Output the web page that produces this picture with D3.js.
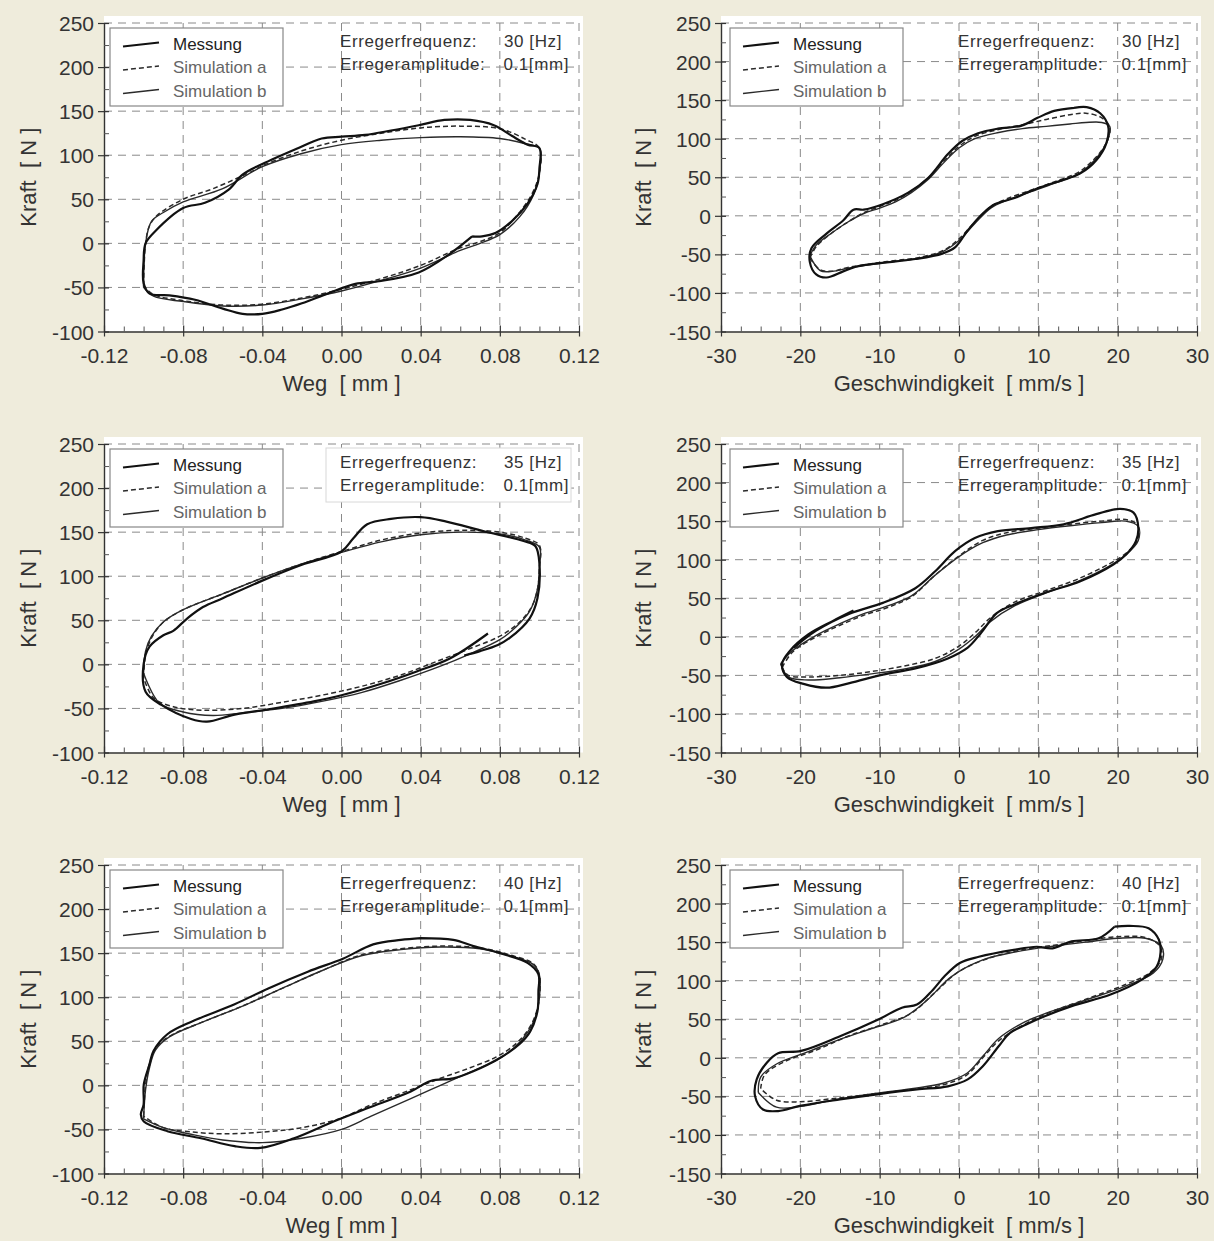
<!DOCTYPE html>
<html>
<head>
<meta charset="utf-8">
<style>
  body { margin: 0; background: #efecdc; }
  svg { display: block; font-family: "Liberation Sans", Arial, sans-serif; }
</style>
</head>
<body>
<svg width="1214" height="1241"></svg>
<script src="https://cdn.jsdelivr.net/npm/d3@7/dist/d3.min.js"></script>
<script>
// ---- tick labels / categories
var wegTicks = [-0.12, -0.08, -0.04, 0, 0.04, 0.08, 0.12];
var wegMinor = [-0.11, -0.10, -0.09, -0.07, -0.06, -0.05, -0.03, -0.02, -0.01, 0.01, 0.02, 0.03, 0.05, 0.06, 0.07, 0.09, 0.10, 0.11];
var wegKraftTicks = [-100, -50, 0, 50, 100, 150, 200, 250];
var wegKraftMinor = [-75, -25, 25, 75, 125, 175, 225];
var geschwTicks = [-30, -20, -10, 0, 10, 20, 30];
var geschwMinor = [-27.5, -25, -22.5, -17.5, -15, -12.5, -7.5, -5, -2.5, 2.5, 5, 7.5, 12.5, 15, 17.5, 22.5, 25, 27.5];
var geschwKraftTicks = [-150, -100, -50, 0, 50, 100, 150, 200, 250];
var geschwKraftMinor = [-125, -75, -25, 25, 75, 125, 175, 225];
var frequencies = ["30", "35", "40"];
var legendLabels = ["Messung", "Simulation a", "Simulation b"];

// ---- 30 Hz, Kraft over Weg
var weg30Mess = [[0.066,8],[0.054,-13],[0.039,-33],[0.019,-43],[0.007,-46],[-0.007,-57],[-0.020,-68],[-0.030,-75],[-0.040,-80],[-0.050,-80],[-0.060,-74],[-0.074,-64],[-0.087,-59],[-0.097,-57],[-0.100,-45],[-0.100,-20],[-0.099,0],[-0.094,14],[-0.080,40],[-0.069,46],[-0.057,61],[-0.050,78],[-0.040,90],[-0.023,107],[-0.010,119],[0.000,121],[0.012,123],[0.025,128],[0.039,134],[0.052,140],[0.065,140],[0.077,134],[0.086,122],[0.094,112],[0.100,108],[0.100,85],[0.099,67],[0.094,45],[0.086,25],[0.078,12],[0.071,8],[0.066,8]];
var weg30SimA = [[-0.100,-48],[-0.099,0],[-0.097,20],[-0.093,32],[-0.080,50],[-0.065,62],[-0.045,82],[-0.040,88],[-0.020,105],[0.000,117],[0.020,125],[0.040,131],[0.060,133],[0.080,130],[0.093,118],[0.100,108],[0.100,80],[0.096,55],[0.088,30],[0.080,12],[0.070,2],[0.060,-5],[0.040,-25],[0.020,-40],[0.000,-52],[-0.020,-62],[-0.040,-69],[-0.060,-70],[-0.080,-65],[-0.095,-58],[-0.100,-48]];
var weg30SimB = [[-0.100,-50],[-0.099,0],[-0.096,25],[-0.090,35],[-0.080,47],[-0.060,62],[-0.040,87],[-0.020,102],[0.000,112],[0.020,117],[0.040,120],[0.060,121],[0.080,119],[0.093,113],[0.100,108],[0.100,80],[0.097,55],[0.090,30],[0.080,10],[0.070,0],[0.060,-8],[0.040,-28],[0.020,-42],[0.000,-54],[-0.020,-63],[-0.040,-70],[-0.060,-71],[-0.080,-66],[-0.095,-60],[-0.100,-50]];

// ---- 30 Hz, Kraft over Geschwindigkeit
var geschw30Mess = [[14.5,140],[16.1,141],[17.8,133],[18.8,116],[18.6,95],[17.3,72],[15.3,55],[13,46],[11.1,40],[9,32],[7,23],[4.5,15],[2.9,2],[1.1,-19],[-0.5,-41],[-2.1,-49],[-5.5,-56],[-10.5,-62],[-13,-66],[-14.6,-72],[-16.7,-80],[-18,-76],[-18.8,-60],[-18.6,-42],[-16.7,-23],[-14.6,-6],[-13.3,8],[-12,8],[-9.6,15],[-6.4,30],[-3.9,49],[-1.4,80],[0.4,97],[2.4,107],[4.9,113],[7.9,117],[9.9,127],[12,136],[14.5,140]];
var geschw30SimA = [[-18.8,-55],[-18,-40],[-16,-22],[-14,-8],[-12,4],[-10,12],[-8,20],[-6,32],[-4,48],[-2,70],[0,90],[2,103],[5,112],[8,118],[11,125],[14,131],[16,133],[18,127],[19,115],[18.8,100],[18,85],[16.5,68],[15,56],[12,44],[9,33],[6,22],[4,12],[2,-8],[0,-30],[-2,-45],[-5,-54],[-8,-58],[-11,-62],[-14,-67],[-16,-72],[-17.5,-70],[-18.8,-55]];
var geschw30SimB = [[-18.8,-52],[-18,-38],[-16,-22],[-14,-8],[-12,3],[-10,10],[-8,18],[-6,30],[-4,46],[-2,68],[0,88],[2,100],[5,108],[8,113],[11,116],[14,119],[16,121],[18,121],[19,116],[18.8,100],[18,84],[16.5,66],[15,54],[12,42],[9,31],[6,20],[4,10],[2,-10],[0,-32],[-2,-46],[-5,-55],[-8,-59],[-11,-63],[-14,-68],[-16,-72],[-17.5,-71],[-18.8,-52]];

// ---- 35 Hz, Kraft over Weg
var weg35Mess = [[0.074,35],[0.055,7],[0.038,-8],[0.020,-22],[0.000,-35],[-0.014,-42],[-0.037,-51],[-0.054,-57],[-0.068,-65],[-0.076,-62],[-0.091,-46],[-0.099,-31],[-0.100,0],[-0.097,20],[-0.090,33],[-0.085,38],[-0.078,52],[-0.070,65],[-0.060,75],[-0.040,95],[-0.020,113],[0.000,128],[0.006,143],[0.013,159],[0.025,165],[0.040,167],[0.053,162],[0.072,151],[0.092,140],[0.098,134],[0.100,114],[0.099,75],[0.095,52],[0.085,30],[0.079,22],[0.070,15],[0.062,10]];
var weg35SimA = [[-0.100,-15],[-0.099,10],[-0.096,30],[-0.090,48],[-0.080,62],[-0.060,80],[-0.040,98],[-0.020,114],[0.000,128],[0.020,141],[0.040,149],[0.060,152],[0.080,150],[0.093,143],[0.100,135],[0.100,110],[0.099,85],[0.096,65],[0.090,48],[0.080,32],[0.065,18],[0.050,5],[0.030,-12],[0.010,-25],[-0.010,-35],[-0.030,-43],[-0.050,-50],[-0.070,-52],[-0.085,-48],[-0.095,-38],[-0.100,-15]];
var weg35SimB = [[-0.100,-10],[-0.099,15],[-0.096,32],[-0.090,48],[-0.080,62],[-0.060,80],[-0.040,98],[-0.020,114],[0.000,127],[0.020,139],[0.040,147],[0.060,150],[0.080,148],[0.093,141],[0.100,133],[0.100,110],[0.099,85],[0.095,60],[0.088,42],[0.080,28],[0.065,12],[0.050,-2],[0.030,-18],[0.010,-32],[-0.010,-42],[-0.030,-50],[-0.050,-55],[-0.065,-58],[-0.080,-54],[-0.092,-44],[-0.100,-10]];

// ---- 35 Hz, Kraft over Geschwindigkeit
var geschw35Mess = [[-13.3,34],[-16,20],[-19,3],[-21.3,-18],[-22.3,-35],[-21.7,-52],[-19.6,-61],[-16.7,-66],[-13.8,-60],[-9.6,-49],[-5.5,-41],[-1.4,-28],[1.1,-14],[2.7,4],[4.8,31],[7,42],[11.1,58],[15.3,72],[19.5,94],[21.1,107],[22.3,124],[22.6,142],[22,161],[20.3,166],[17.3,159],[13.2,146],[9.1,141],[4.9,137],[2,128],[-0.5,111],[-3,85],[-5.5,63],[-9.6,44],[-13.8,30],[-18,8],[-20.8,-14]];
var geschw35SimA = [[-22.3,-40],[-21,-20],[-18,0],[-15,15],[-12,28],[-9,38],[-6,52],[-3,80],[0,105],[3,125],[6,135],[10,141],[14,146],[18,150],[21,152],[22.5,145],[22.5,125],[21,108],[19,95],[15,75],[11,60],[7,45],[4,25],[2,5],[0,-12],[-3,-28],[-7,-38],[-11,-45],[-15,-50],[-19,-52],[-21.5,-50],[-22.3,-40]];
var geschw35SimB = [[-22.5,-35],[-21,-18],[-18,2],[-15,17],[-12,30],[-9,40],[-6,53],[-3,80],[0,104],[3,122],[6,132],[10,139],[14,144],[18,148],[21,150],[22.6,143],[22.6,125],[21,106],[19,92],[15,72],[11,57],[7,40],[4,20],[2,0],[0,-16],[-3,-32],[-7,-42],[-11,-48],[-15,-53],[-19,-56],[-21.5,-52],[-22.5,-35]];

// ---- 40 Hz, Kraft over Weg
var weg40Mess = [[0.040,167],[0.0565,165],[0.0667,158],[0.080,150],[0.094,139],[0.0995,126],[0.0995,107],[0.099,84],[0.0953,61],[0.090,47],[0.080,31],[0.0666,16],[0.0565,8],[0.045,5],[0.035,-7],[0.013,-26],[-0.004,-41],[-0.024,-60],[-0.041,-71],[-0.054,-69],[-0.071,-60],[-0.088,-52],[-0.0999,-41],[-0.1014,-33],[-0.100,-22],[-0.0999,1],[-0.097,24],[-0.095,39],[-0.088,58],[-0.075,73],[-0.054,92],[-0.037,110],[-0.017,129],[0.001,144],[0.016,160],[0.030,165],[0.040,167]];
var weg40SimA = [[-0.100,-35],[-0.099,0],[-0.097,25],[-0.093,45],[-0.085,58],[-0.070,72],[-0.050,90],[-0.030,110],[-0.010,130],[0.010,148],[0.030,155],[0.050,158],[0.070,156],[0.085,148],[0.097,138],[0.100,125],[0.100,100],[0.098,80],[0.094,62],[0.087,45],[0.078,32],[0.065,20],[0.050,8],[0.035,-5],[0.015,-22],[0.000,-37],[-0.020,-48],[-0.040,-53],[-0.060,-55],[-0.075,-53],[-0.090,-48],[-0.100,-35]];
var weg40SimB = [[-0.100,-38],[-0.099,-5],[-0.097,20],[-0.094,40],[-0.087,55],[-0.070,72],[-0.050,90],[-0.030,110],[-0.010,130],[0.010,147],[0.030,154],[0.050,157],[0.070,155],[0.085,147],[0.097,137],[0.100,125],[0.100,100],[0.098,78],[0.094,60],[0.087,42],[0.078,28],[0.065,15],[0.050,0],[0.035,-15],[0.015,-35],[0.000,-50],[-0.020,-60],[-0.040,-65],[-0.060,-62],[-0.075,-56],[-0.090,-48],[-0.100,-38]];

// ---- 40 Hz, Kraft over Geschwindigkeit
var geschw40Mess = [[19.6,170],[21.5,171],[23.9,168],[25.2,153],[25.4,136],[24.9,118],[23,101],[19.1,82],[14.2,67],[10.8,54],[8.4,43],[6.4,32],[5,15],[3,-11],[1.1,-28],[-1.4,-37],[-5.3,-41],[-10.1,-47],[-15,-54],[-19.9,-62],[-22.8,-69],[-24.7,-67],[-25.7,-50],[-25.5,-28],[-24.2,-6],[-22.8,6],[-19.9,9],[-15,28],[-10.1,50],[-7.2,65],[-5.3,69],[-3.3,88],[-1.8,106],[0.1,123],[2.5,131],[6.9,140],[9.8,144],[11.8,142],[14.2,151],[17.6,155],[19.6,170]];
var geschw40SimA = [[-25,-40],[-24.5,-22],[-22,-5],[-18,10],[-14,28],[-10,42],[-6,58],[-3,85],[0,112],[4,130],[8,140],[12,146],[16,152],[20,157],[23.5,156],[25.3,145],[25.5,128],[24,110],[21,95],[16,76],[11,57],[8,42],[5,22],[3,0],[1,-22],[-2,-35],[-6,-41],[-11,-47],[-16,-53],[-20,-57],[-23,-55],[-25,-40]];
var geschw40SimB = [[-25.3,-45],[-25,-25],[-23,-8],[-19,8],[-15,24],[-11,38],[-7,52],[-4,75],[-1,105],[3,127],[7,137],[12,145],[16,150],[20,155],[23.5,155],[25.5,145],[25.7,128],[24.5,110],[21,93],[16,75],[11,58],[8,45],[5,25],[3,2],[1,-20],[-2,-33],[-6,-40],[-11,-47],[-16,-55],[-20,-63],[-23,-64],[-25.3,-45]];

var svg = d3.select("svg");
var fontFam = '"Liberation Sans", Arial, sans-serif';
// plain hyphen as minus sign, like the original plots
var locale = d3.formatLocale({decimal: ".", thousands: ",", grouping: [3], currency: ["", ""], minus: "-"});

var panels = [
    {row: 0, col: 0, freq: frequencies[0], series: [weg30SimB, weg30SimA, weg30Mess]},
    {row: 0, col: 1, freq: frequencies[0], series: [geschw30SimB, geschw30SimA, geschw30Mess]},
    {row: 1, col: 0, freq: frequencies[1], series: [weg35SimB, weg35SimA, weg35Mess], box: true},
    {row: 1, col: 1, freq: frequencies[1], series: [geschw35SimB, geschw35SimA, geschw35Mess]},
    {row: 2, col: 0, freq: frequencies[2], series: [weg40SimB, weg40SimA, weg40Mess]},
    {row: 2, col: 1, freq: frequencies[2], series: [geschw40SimB, geschw40SimA, geschw40Mess]}
];

// line styles for SimB, SimA, Messung (draw order)
var seriesStyle = [
    {stroke: "#2a2a2a", width: 1.4, dash: null},
    {stroke: "#2a2a2a", width: 1.5, dash: "5,3"},
    {stroke: "#111", width: 2.2, dash: null}
];

panels.forEach(function(p) {
    var left = p.col === 0;
    var x0 = left ? 104 : 721, x1 = left ? 579 : 1197;
    var top = 23 + p.row * 421, bottom = top + 308.5;
    var xTicks = left ? wegTicks : geschwTicks;
    var xMinor = left ? wegMinor : geschwMinor;
    var yTicks = left ? wegKraftTicks : geschwKraftTicks;
    var yMinor = left ? wegKraftMinor : geschwKraftMinor;

    var x = d3.scaleLinear().domain(d3.extent(xTicks)).range([x0, x1]);
    var y = d3.scaleLinear().domain(d3.extent(yTicks)).range([bottom, top]);

    var g = svg.append("g");

    g.append("rect").attr("x", x0).attr("y", top - 7)
        .attr("width", x1 - x0 + 4).attr("height", bottom - top + 7)
        .attr("fill", "#fff");

    // dashed grid
    g.selectAll(".vgrid").data(xTicks.slice(1)).join("line")
        .attr("x1", function(d) { return x(d); }).attr("x2", function(d) { return x(d); })
        .attr("y1", top).attr("y2", bottom)
        .attr("stroke", "#8a8a8a").attr("stroke-width", 1).attr("stroke-dasharray", "8,6");
    g.selectAll(".hgrid").data(yTicks.slice(1)).join("line")
        .attr("x1", x0).attr("x2", x1)
        .attr("y1", function(d) { return y(d); }).attr("y2", function(d) { return y(d); })
        .attr("stroke", "#8a8a8a").attr("stroke-width", 1).attr("stroke-dasharray", "8,6");

    if (p.box) {
        g.append("rect").attr("x", x0 + 222).attr("y", top + 4)
            .attr("width", x1 - x0 - 230).attr("height", 54)
            .attr("fill", "#fff").attr("stroke", "#d8d8d8");
    }

    // curves
    var line = d3.line()
        .x(function(d) { return x(d[0]); })
        .y(function(d) { return y(d[1]); })
        .curve(d3.curveCatmullRom.alpha(0.5));
    p.series.forEach(function(s, i) {
        var st = seriesStyle[i];
        g.append("path").datum(s).attr("d", line)
            .attr("fill", "none").attr("stroke", st.stroke)
            .attr("stroke-width", st.width)
            .attr("stroke-dasharray", st.dash)
            .attr("stroke-linejoin", "round");
    });

    // axes
    var fmt = left ? locale.format(".2f") : locale.format("d");
    var xAxis = g.append("g").attr("transform", "translate(0," + bottom + ")")
        .call(d3.axisBottom(x).tickValues(xTicks).tickSizeOuter(0).tickFormat(fmt));
    xAxis.select(".domain").attr("stroke", "#333").attr("stroke-width", 1.4);
    xAxis.selectAll(".tick line").attr("y1", -6).attr("y2", 5).attr("stroke", "#333").attr("stroke-width", 1.2);
    xAxis.selectAll(".tick text").attr("y", 31).attr("dy", 0)
        .attr("font-size", 21).attr("font-family", fontFam).attr("fill", "#333");
    g.append("g").attr("transform", "translate(0," + bottom + ")")
        .call(d3.axisBottom(x).tickValues(xMinor).tickSize(-5).tickFormat(""))
        .call(function(a) { a.select(".domain").remove(); })
        .selectAll("line").attr("stroke", "#555");

    var yAxis = g.append("g").attr("transform", "translate(" + x0 + ",0)")
        .call(d3.axisLeft(y).tickValues(yTicks).tickSizeOuter(0).tickFormat(locale.format("d")));
    yAxis.select(".domain").attr("stroke", "#333").attr("stroke-width", 1.4);
    yAxis.selectAll(".tick line").attr("x1", -6).attr("x2", 5).attr("stroke", "#333").attr("stroke-width", 1.2);
    yAxis.selectAll(".tick text").attr("x", -10).attr("dy", "0.36em")
        .attr("font-size", 21).attr("font-family", fontFam).attr("fill", "#333");
    g.append("g").attr("transform", "translate(" + x0 + ",0)")
        .call(d3.axisLeft(y).tickValues(yMinor).tickSize(-5).tickFormat(""))
        .call(function(a) { a.select(".domain").remove(); })
        .selectAll("line").attr("stroke", "#555");

    // axis titles
    var xTitle = left ? (p.row === 2 ? "Weg [ mm ]" : "Weg  [ mm ]") : "Geschwindigkeit  [ mm/s ]";
    g.append("text").attr("x", (x0 + x1) / 2).attr("y", bottom + 59)
        .attr("text-anchor", "middle").attr("font-size", 22).attr("fill", "#333")
        .style("white-space", "pre").text(xTitle);
    g.append("text")
        .attr("transform", "translate(" + (x0 - (left ? 76 : 78)) + "," + ((top + bottom) / 2) + ") rotate(-90)")
        .attr("text-anchor", "middle").attr("dy", "0.35em")
        .attr("font-size", 22).attr("fill", "#333")
        .style("white-space", "pre").text("Kraft  [ N ]");

    // legend
    var lx = x0 + (left ? 6 : 9);
    g.append("rect").attr("x", lx).attr("y", top + 5)
        .attr("width", 173).attr("height", 78)
        .attr("fill", "#fff").attr("stroke", "#888").attr("stroke-width", 1.2);
    legendLabels.forEach(function(lab, i) {
        var cy = top + 21 + i * 23.5;
        var st = seriesStyle[2 - i];
        g.append("line").attr("x1", lx + 13).attr("x2", lx + 49)
            .attr("y1", cy + 2.5).attr("y2", cy - 1.5)
            .attr("stroke", st.stroke).attr("stroke-width", st.width)
            .attr("stroke-dasharray", st.dash);
        g.append("text").attr("x", lx + 63).attr("y", cy).attr("dy", "0.35em")
            .attr("font-size", 17).attr("fill", i === 0 ? "#222" : "#666")
            .text(lab);
    });

    // annotation
    var ax = x0 + (left ? 236 : 237);
    g.append("text").attr("x", ax).attr("y", top + 24)
        .attr("font-size", 17).attr("letter-spacing", 0.6).attr("fill", "#333")
        .text("Erregerfrequenz:");
    g.append("text").attr("x", x1 - 17).attr("y", top + 24).attr("text-anchor", "end")
        .attr("font-size", 17).attr("letter-spacing", 0.6).attr("fill", "#333")
        .text(p.freq + " [Hz]");
    g.append("text").attr("x", ax).attr("y", top + 47)
        .attr("font-size", 17).attr("letter-spacing", 0.6).attr("fill", "#333")
        .text("Erregeramplitude:");
    g.append("text").attr("x", x1 - 10).attr("y", top + 47).attr("text-anchor", "end")
        .attr("font-size", 17).attr("letter-spacing", 0.6).attr("fill", "#333")
        .text("0.1[mm]");
});
</script>
</body>
</html>
